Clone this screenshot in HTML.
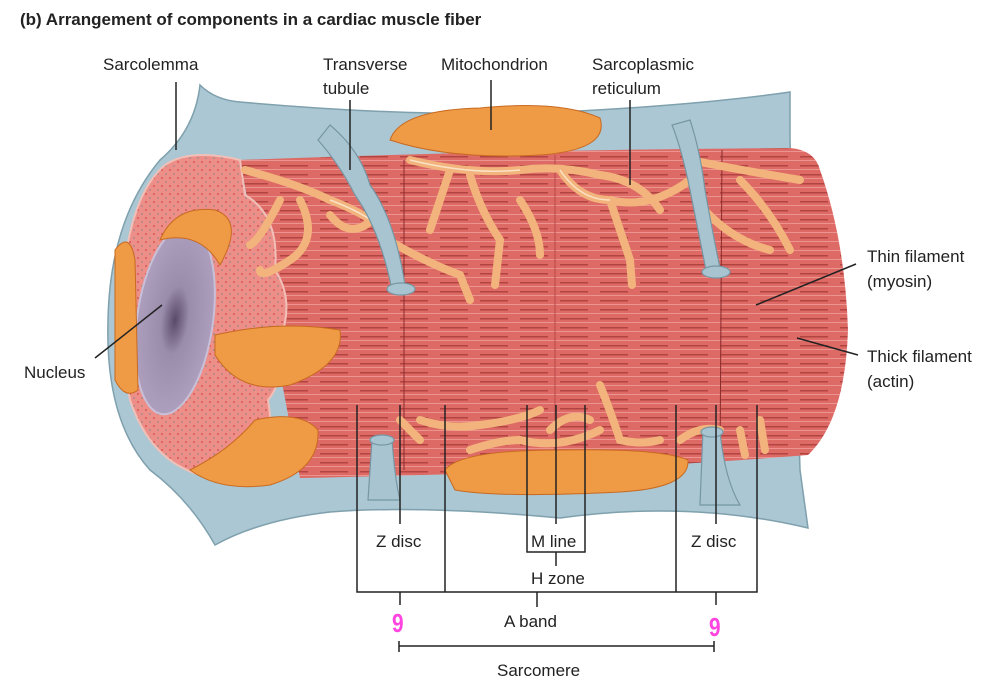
<!DOCTYPE html>
<html><head><meta charset="utf-8"><style>
html,body{margin:0;padding:0;background:#fff;width:1000px;height:687px;overflow:hidden}
svg{display:block}
text{font-family:"Liberation Sans",sans-serif;fill:#222}
</style></head><body>
<svg width="1000" height="687" viewBox="0 0 1000 687" xmlns="http://www.w3.org/2000/svg">
<defs>
<pattern id="fil" width="40" height="9" patternUnits="userSpaceOnUse">
<rect width="40" height="9" fill="#de6a66"/>
<rect x="0" y="3" width="28" height="1.5" fill="#b24442"/>
<rect x="0" y="7" width="40" height="1" fill="#ec9490"/>
</pattern>
<pattern id="dots" width="8" height="8" patternUnits="userSpaceOnUse">
<rect width="8" height="8" fill="#ee8e88"/>
<circle cx="2" cy="2" r="0.9" fill="#c84a46"/>
<circle cx="6" cy="6" r="0.8" fill="#7b8a8e"/>
</pattern>
<radialGradient id="nuc" cx="0.5" cy="0.5" r="0.6"><stop offset="0" stop-color="#5a4a6a"/><stop offset="0.3" stop-color="#9a8cab"/><stop offset="1" stop-color="#b2a4c2"/></radialGradient>
</defs>

<text x="20" y="25" font-size="17" font-weight="bold">(b) Arrangement of components in a cardiac muscle fiber</text>

<path d="M200,85 Q215,100 240,102 Q420,118 560,112 Q700,105 790,92 L790,140 L800,470 L808,528 Q690,500 560,518 Q420,505 330,512 Q260,520 215,545 Q190,500 150,470 Q105,420 108,320 Q110,220 160,160 Q195,130 200,85 Z" fill="#aac7d3" stroke="#7fa0ad" stroke-width="1.5"/>

<path d="M240,160 Q500,150 790,148 Q815,150 820,170 Q845,240 848,330 Q845,420 808,455 Q600,472 300,478 Z" fill="url(#fil)"/>
<line x1="404" y1="160" x2="404" y2="470" stroke="#8a2c2c" stroke-width="1"/>
<line x1="555" y1="155" x2="555" y2="472" stroke="#b84848" stroke-width="1"/>
<line x1="722" y1="150" x2="720" y2="465" stroke="#8a2c2c" stroke-width="1"/>

<path d="M165,165 Q190,148 240,160 L245,195 Q280,215 275,270 Q295,300 280,340 Q285,380 268,400 Q275,440 262,470 Q230,480 200,475 Q150,460 130,400 Q118,330 125,260 Q135,190 165,165 Z" fill="url(#dots)" stroke="#f0c0b8" stroke-width="2"/>
<ellipse cx="175" cy="320" rx="38" ry="95" transform="rotate(8 175 320)" fill="url(#nuc)" stroke="#c8c0d8" stroke-width="2"/>

<g fill="#ef9a45" stroke="#c86a20" stroke-width="1">
<path d="M160,240 Q175,205 215,210 Q245,220 220,265 Q200,230 160,240 Z"/>
<path d="M115,250 Q130,230 135,260 L138,390 Q125,400 115,380 Z"/>
<path d="M215,335 Q280,320 340,330 Q345,365 290,385 Q240,395 215,355 Z"/>
<path d="M190,470 Q230,450 255,420 Q300,410 318,430 Q320,470 270,485 Q220,492 190,470 Z"/>
<path d="M390,140 Q400,110 480,108 Q560,100 600,118 Q610,150 540,155 Q450,160 390,140 Z"/>
<path d="M445,470 Q460,450 560,450 Q660,448 688,460 Q690,488 620,492 Q500,498 455,490 Z"/>
</g>

<g fill="none" stroke="#f2b47c" stroke-width="8" stroke-linecap="round">
<path d="M245,170 Q300,185 330,200 Q370,215 390,235 M280,200 Q260,240 250,245 M300,200 Q320,240 290,260 Q260,280 260,270 M330,215 Q350,240 372,220 M410,160 Q470,175 520,170 Q560,165 600,175 Q640,180 660,210 M450,170 Q440,200 430,230 M470,175 Q480,210 500,240 L495,285 M560,170 Q580,200 610,200 Q620,230 630,260 L632,285 M520,200 Q540,230 540,255 M610,200 Q650,210 690,180 M690,160 Q740,170 800,180 M740,180 Q770,210 790,250 M700,205 Q730,240 770,250 M380,235 Q420,260 460,275 L470,300"/>
<path d="M420,420 Q450,430 480,425 Q520,420 540,410 M470,450 Q500,440 520,440 Q560,450 600,430 M600,385 Q610,410 620,440 Q640,445 660,440 M550,430 Q570,410 590,420 M680,440 Q700,425 720,430 M740,430 L745,455 M760,420 L765,450 M400,420 L420,440"/>
</g>
<g fill="none" stroke="#fae2c6" stroke-width="1.5">
<path d="M330,200 Q370,215 390,235 M410,160 Q470,175 520,170 M560,170 Q580,200 610,200"/>
</g>

<g fill="#a8c4d0" stroke="#7696a3" stroke-width="1.2">
<path d="M330,125 Q360,150 370,185 Q395,220 405,285 L392,290 Q380,230 355,195 Q340,165 318,140 Z"/>
<ellipse cx="401" cy="289" rx="14" ry="6"/>
<path d="M690,120 Q700,150 705,190 Q712,230 720,268 L706,270 Q698,230 690,190 Q682,150 672,125 Z"/>
<ellipse cx="716" cy="272" rx="14" ry="6"/>
<path d="M372,440 L392,440 Q395,480 400,500 L368,500 Z"/>
<ellipse cx="382" cy="440" rx="12" ry="5"/>
<path d="M703,430 L720,432 Q725,480 740,505 L700,505 Z"/>
<ellipse cx="712" cy="432" rx="11" ry="5"/>
</g>

<g stroke="#222" stroke-width="1.5" fill="none">
<line x1="176" y1="82" x2="176" y2="150"/>
<line x1="350" y1="100" x2="350" y2="170"/>
<line x1="491" y1="80" x2="491" y2="130"/>
<line x1="630" y1="100" x2="630" y2="185"/>
<line x1="162" y1="305" x2="95" y2="358"/>
<line x1="856" y1="264" x2="756" y2="305"/>
<line x1="858" y1="355" x2="797" y2="338"/>
<path d="M357,405 V592 H757 V405"/>
<line x1="400" y1="405" x2="400" y2="524"/>
<line x1="445" y1="405" x2="445" y2="592"/>
<line x1="676" y1="405" x2="676" y2="592"/>
<line x1="716" y1="405" x2="716" y2="524"/>
<path d="M527,405 V552 H585 V405"/>
<line x1="556" y1="405" x2="556" y2="524"/>
<line x1="556" y1="552" x2="556" y2="566"/>
<line x1="537" y1="592" x2="537" y2="607"/>
<line x1="400" y1="592" x2="400" y2="605"/>
<line x1="716" y1="592" x2="716" y2="605"/>
<path d="M399,641 V652 M399,646 H714 M714,641 V652"/>
</g>

<g font-size="17">
<text x="103" y="70">Sarcolemma</text>
<text x="323" y="70">Transverse</text>
<text x="323" y="94">tubule</text>
<text x="441" y="70">Mitochondrion</text>
<text x="592" y="70">Sarcoplasmic</text>
<text x="592" y="94">reticulum</text>
<text x="867" y="262">Thin filament</text>
<text x="867" y="287">(myosin)</text>
<text x="867" y="362">Thick filament</text>
<text x="867" y="387">(actin)</text>
<text x="24" y="378">Nucleus</text>
<text x="376" y="547">Z disc</text>
<text x="531" y="547">M line</text>
<text x="691" y="547">Z disc</text>
<text x="531" y="584">H zone</text>
<text x="504" y="627">A band</text>
<text x="497" y="676">Sarcomere</text>
</g>
<g font-size="26" font-weight="bold">
<text x="0" y="0" transform="translate(392,632) scale(0.8,1)" style="fill:#ff44e0">9</text>
<text x="0" y="0" transform="translate(709,636) scale(0.8,1)" style="fill:#ff44e0">9</text>
</g>
</svg>
</body></html>
